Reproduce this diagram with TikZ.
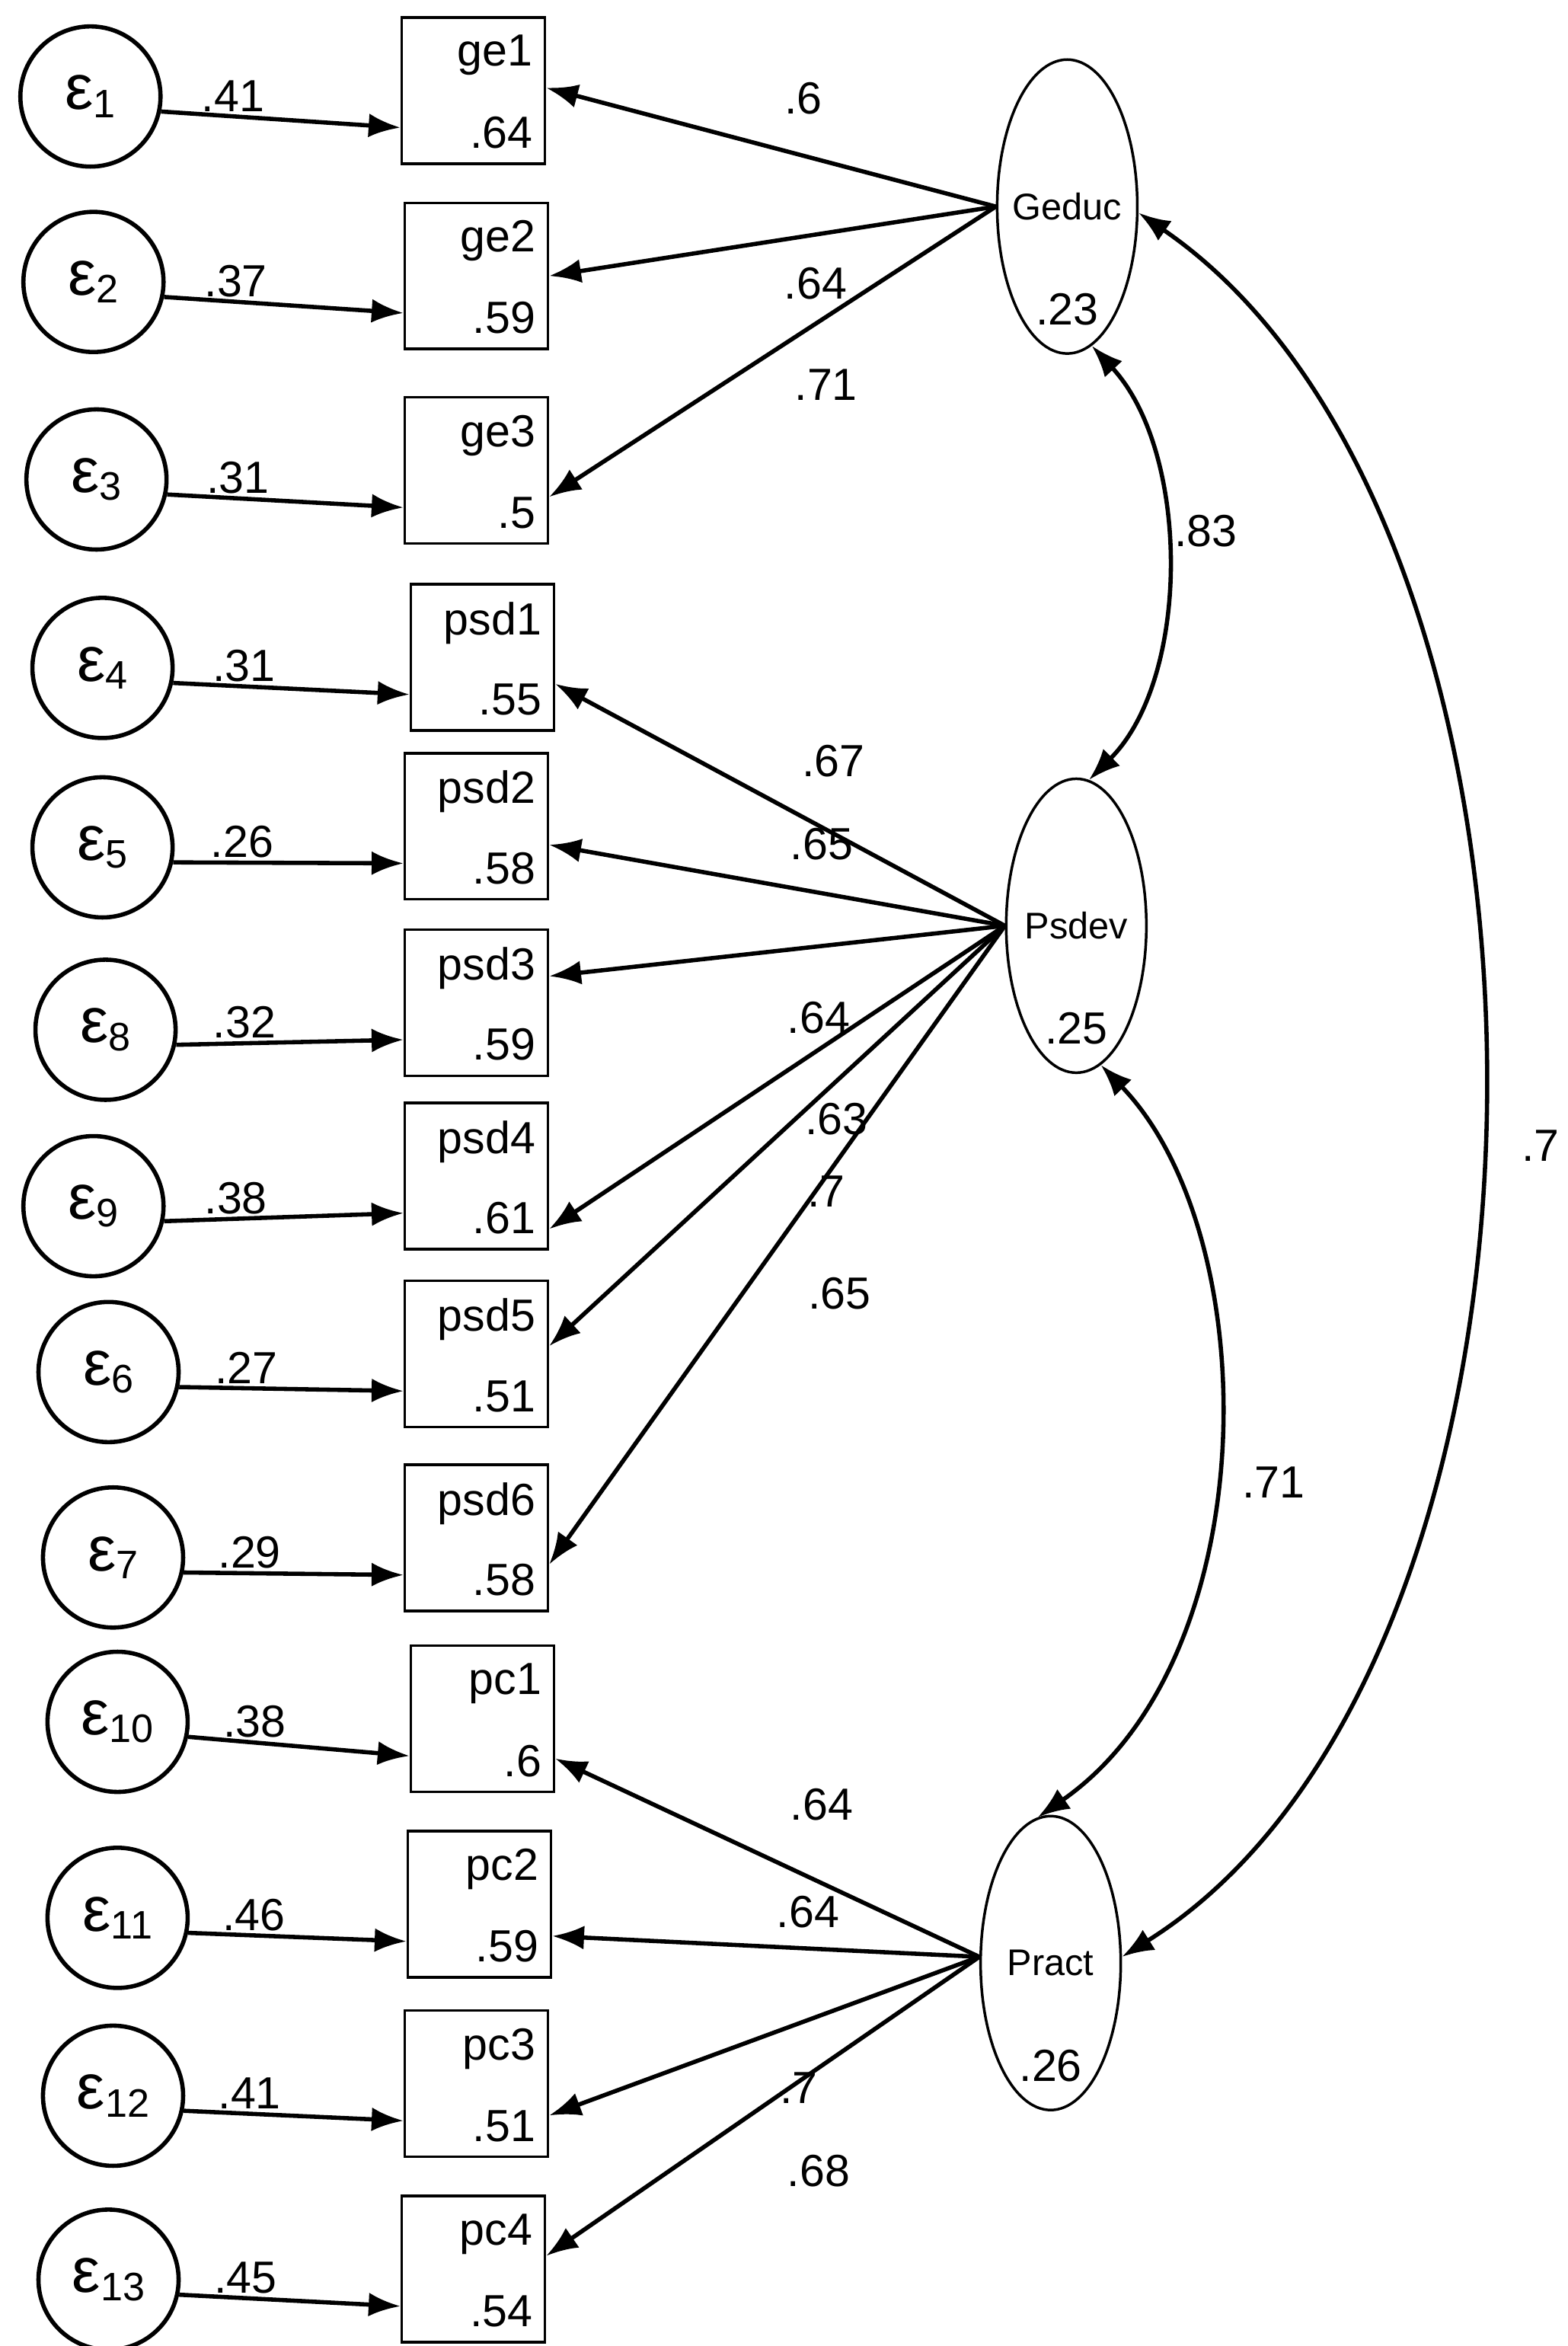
\documentclass[tikz,border=0pt]{standalone}
\usepackage{fontspec}
\setmainfont{Liberation Sans}
\usetikzlibrary{arrows.meta,shapes.geometric}
\tikzset{
  err/.style={draw,circle,line width=1.6pt,minimum size=1.86cm,inner sep=0pt},
  obs/.style={draw,line width=1pt,minimum width=1.9cm,minimum height=1.94cm,inner sep=0pt},
  lat/.style={draw,ellipse,line width=1pt,minimum width=1.86cm,minimum height=3.9cm,inner sep=0pt},
  path/.style={line width=1.6pt,-{Latex[length=12pt,width=9pt]}},
  cov/.style={line width=1.6pt,{Latex[length=12pt,width=9pt]}-{Latex[length=12pt,width=9pt]}},
  lab/.style={font=\fontsize{17}{20}\selectfont,inner sep=1pt},
}
\newcommand{\errnode}[3]{\node[err] (#1) at (#2) {\fontsize{24}{24}\selectfont ε\fontsize{15}{15}\selectfont\raisebox{-3pt}{#3}};}
\newcommand{\obsnode}[4]{
  \node[obs] (#1) at (#2) {};
  \node[lab,anchor=north east] at ([shift={(-4pt,-6pt)}]#1.north east) {#3};
  \node[lab,anchor=south east] at ([shift={(-4pt,5pt)}]#1.south east) {#4};
}
\newcommand{\errpath}[3]{
  \draw[path] (#1.-12) -- ([yshift=-14pt]#2.west |- #2.center) node[lab,pos=0.3,above] {#3};
}
\begin{document}
\begin{tikzpicture}[x=0.02cm,y=-0.02cm]
  \useasboundingbox (0,0) rectangle (1040,1556);
  % error terms
  \errnode{e1}{60,64}{1}
  \errnode{e2}{62,187}{2}
  \errnode{e3}{64,318}{3}
  \errnode{e4}{68,443}{4}
  \errnode{e5}{68,562}{5}
  \errnode{e8}{70,683}{8}
  \errnode{e9}{62,800}{9}
  \errnode{e6}{72,910}{6}
  \errnode{e7}{75,1033}{7}
  \errnode{e10}{78,1142}{10}
  \errnode{e11}{78,1272}{11}
  \errnode{e12}{75,1390}{12}
  \errnode{e13}{72,1512}{13}
  % indicators
  \obsnode{ge1}{314,60}{ge1}{.64}
  \obsnode{ge2}{316,183}{ge2}{.59}
  \obsnode{ge3}{316,312}{ge3}{.5}
  \obsnode{psd1}{320,436}{psd1}{.55}
  \obsnode{psd2}{316,548}{psd2}{.58}
  \obsnode{psd3}{316,665}{psd3}{.59}
  \obsnode{psd4}{316,780}{psd4}{.61}
  \obsnode{psd5}{316,898}{psd5}{.51}
  \obsnode{psd6}{316,1020}{psd6}{.58}
  \obsnode{pc1}{320,1140}{pc1}{.6}
  \obsnode{pc2}{318,1263}{pc2}{.59}
  \obsnode{pc3}{316,1382}{pc3}{.51}
  \obsnode{pc4}{314,1505}{pc4}{.54}
  % latent variables
  \node[lat] (geduc) at (708,137) {};
  \node[lat] (psdev) at (714,614) {};
  \node[lat] (pract) at (697,1302) {};
  \node[font=\fontsize{14}{16}\selectfont] at (708,137) {Geduc};
  \node[lab] at (708,205) {.23};
  \node[font=\fontsize{14}{16}\selectfont] at (714,614) {Psdev};
  \node[lab] at (714,682) {.25};
  \node[font=\fontsize{14}{16}\selectfont] at (697,1302) {Pract};
  \node[lab] at (697,1370) {.26};
  % error paths
  \errpath{e1}{ge1}{.41}
  \errpath{e2}{ge2}{.37}
  \errpath{e3}{ge3}{.31}
  \errpath{e4}{psd1}{.31}
  \errpath{e5}{psd2}{.26}
  \errpath{e8}{psd3}{.32}
  \errpath{e9}{psd4}{.38}
  \errpath{e6}{psd5}{.27}
  \errpath{e7}{psd6}{.29}
  \errpath{e10}{pc1}{.38}
  \errpath{e11}{pc2}{.46}
  \errpath{e12}{pc3}{.41}
  \errpath{e13}{pc4}{.45}
  % loadings
  \draw[path] (geduc.180) -- ([yshift=1pt]ge1.east);
  \draw[path] (geduc.180) -- (ge2.east);
  \draw[path] (geduc.180) -- ([yshift=-10pt]ge3.east);
  \node[lab] at (533,65) {.6};
  \node[lab] at (541,188) {.64};
  \node[lab] at (548,255) {.71};
  \draw[path] (psdev.180) -- ([yshift=-10pt]psd1.east);
  \draw[path] (psdev.180) -- ([yshift=-7pt]psd2.east);
  \draw[path] (psdev.180) -- ([yshift=10pt]psd3.east);
  \draw[path] (psdev.180) -- ([yshift=-20pt]psd4.east);
  \draw[path] (psdev.180) -- ([yshift=3pt]psd5.east);
  \draw[path] (psdev.180) -- ([yshift=-10pt]psd6.east);
  \node[lab] at (553,505) {.67};
  \node[lab] at (545,560) {.65};
  \node[lab] at (543,675) {.64};
  \node[lab] at (555,742) {.63};
  \node[lab] at (548,790) {.7};
  \node[lab] at (557,858) {.65};
  \draw[path] (pract.175) -- ([yshift=-15pt]pc1.east);
  \draw[path] (pract.175) -- ([yshift=-12pt]pc2.east);
  \draw[path] (pract.175) -- ([yshift=-12pt]pc3.east);
  \draw[path] (pract.175) -- ([yshift=5pt]pc4.east);
  \node[lab] at (545,1197) {.64};
  \node[lab] at (536,1268) {.64};
  \node[lab] at (530,1385) {.7};
  \node[lab] at (543,1440) {.68};
  % covariances
  \draw[cov] (geduc.-80) .. controls (790,300) and (790,450) .. (psdev.85);
  \draw[cov] (psdev.-80) .. controls (840,820) and (840,1100) .. (pract.95);
  \draw[cov] (geduc.-5) .. controls (1060,350) and (1060,1100) .. (pract.5);
  \node[lab] at (800,352) {.83};
  \node[lab] at (845,983) {.71};
  \node[lab] at (1022,760) {.7};
\end{tikzpicture}
\end{document}
